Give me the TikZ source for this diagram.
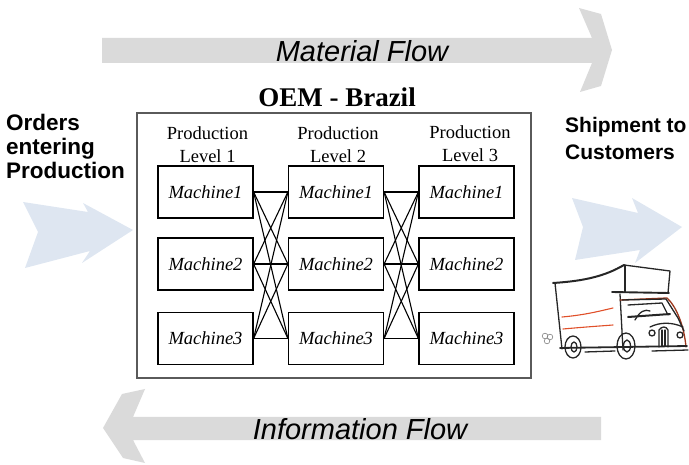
\documentclass[tikz,border=0pt]{standalone}
\usepackage{fontspec}
\newfontfamily\flowfont{Liberation Sans}
\newfontfamily\plantfont{Liberation Serif}
\definecolor{flowgray}{HTML}{DADADA}
\definecolor{paleblue}{HTML}{DEE6F1}
\definecolor{framegray}{HTML}{5A5A5A}
\definecolor{stripe}{HTML}{E0502A}
\begin{document}
\begin{tikzpicture}[x=1pt,y=-1pt,
  machine/.style={draw, line width=1.2pt, minimum width=95pt, minimum height=52pt,
    inner sep=0pt, font=\plantfont\itshape\fontsize{18.5}{20}\selectfont},
  levellabel/.style={anchor=north, inner sep=0pt, align=center,
    font=\plantfont\fontsize{18.5}{23}\selectfont},
  sidelabel/.style={inner sep=0pt, align=left,
    font=\flowfont\bfseries\fontsize{22.5}{24}\selectfont},
  flowlabel/.style={inner sep=0pt, font=\flowfont\itshape\fontsize{29}{32}\selectfont},
  link/.style={line width=1.1pt},
  sketch/.style={line width=1.3pt, line cap=round, line join=round, black!85}]
\useasboundingbox (0,0) rectangle (689,465);

% big grey flow arrows
\fill[flowgray] (102,38) -- (592,38) -- (579,8) -- (601,14) -- (612,50)
  -- (601,86) -- (580,92) -- (592,63) -- (102,63) -- cycle;
\fill[flowgray] (601,417) -- (133,417) -- (145,389) -- (122,394) -- (103,428)
  -- (123,458) -- (145,463) -- (133,440) -- (601,440) -- cycle;
\node[flowlabel] (matflow) at (362,51) {Material Flow};
\node[flowlabel] (infoflow) at (360,429) {Information Flow};

% pale blue input / output arrows
\fill[paleblue] (23,202) -- (88,212) -- (83,203) -- (133,230) -- (82,263)
  -- (90,251) -- (25,268) -- (38,232) -- cycle;
\fill[paleblue] (572,198) -- (638,213) -- (632,198) -- (682,227) -- (635,263)
  -- (640,250) -- (575,260) -- (583,227) -- cycle;

% side texts
\node[sidelabel, anchor=north west] (orders) at (6,114) {Orders\\entering\\Production};
\node[sidelabel, anchor=north west, font=\flowfont\bfseries\fontsize{21}{27}\selectfont]
  (ship) at (565,117) {Shipment to\\Customers};

% plant frame and title
\draw[framegray, line width=1.2pt] (137,113) rectangle (531,378);
\node[inner sep=0pt, font=\plantfont\bfseries\fontsize{27}{30}\selectfont] (oem) at (337,97) {OEM - Brazil};

% production levels
\node[levellabel] (lev1) at (207.5,126.5) {Production\\Level 1};
\node[levellabel] (lev2) at (338,126.5) {Production\\Level 2};
\node[levellabel] (lev3) at (470,125.5) {Production\\Level 3};

\foreach \c/\x in {1/205.5, 2/336, 3/466.5} {
  \node[machine] (m\c1) at (\x,192) {Machine1};
  \node[machine] (m\c2) at (\x,264) {Machine2};
  \node[machine] (m\c3) at (\x,338.5) {Machine3};
}

% every machine feeds every machine of the next level
\foreach \a/\b in {1/2, 2/3} {
  \foreach \i in {1,2,3} {
    \foreach \j in {1,2,3} {
      \draw[link] (m\a\i.east) -- (m\b\j.west);
    }
  }
}

% delivery truck sketch
\begin{scope}[sketch]
  % cargo box
  \draw[line width=2pt] (553,283) .. controls (585,281) and (605,276) .. (624,265);
  \draw (624,265) -- (670,271) -- (668,293);
  \draw (625,265) -- (625,292);
  \draw (555,283) -- (562,349);
  \draw[line width=1.9pt] (612,292) -- (669,293);
  % red stripes
  \draw[stripe, line width=1.1pt] (562,317) .. controls (585,315) and (600,311) .. (613,308);
  \draw[stripe, line width=1.1pt] (563,329) .. controls (585,327) and (600,326) .. (613,325);
  % cab
  \draw (620,294) -- (623,350);
  \draw[stripe!70!black] (620,300) -- (667,298) .. controls (676,306) and (684,325) .. (686,347);
  \draw (622,300) -- (666,299) -- (678,318) -- (684,331);
  \draw (628,305) -- (662,303) -- (668,315);
  \draw[line width=2pt] (628,317) -- (670,314);
  \draw (635,320) .. controls (640,311) and (645,309) .. (650,311);
  \draw (650,327) .. controls (660,322) and (672,322) .. (683,327);
  \draw (652,333) circle (3);
  \draw (680,335) circle (3);
  \draw (659,347) -- (659,330) .. controls (662,326) and (666,326) .. (668,330) -- (668,347);
  \draw (662,330) -- (662,346);
  \draw (665,330) -- (665,346);
  % chassis and bumper
  \draw[line width=1.8pt] (560,348) -- (687,346);
  \draw (652,351) -- (688,350);
  % wheels
  \draw (573,347) ellipse (8 and 11);
  \draw (574,347) ellipse (3 and 5);
  \draw (626,346) ellipse (9 and 13);
  \draw (627,346) ellipse (3.5 and 6);
  \draw (585,352) -- (615,351);
\end{scope}
% exhaust puff
\draw[gray, line width=0.6pt] (545,336) circle (2.8) (550,337) circle (2.8) (547,341) circle (2.8);

\end{tikzpicture}
\end{document}
